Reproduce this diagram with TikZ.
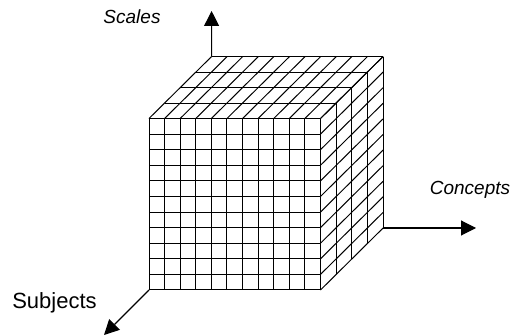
\documentclass[tikz,border=0pt]{standalone}
\usepackage{fontspec}
\setmainfont{Liberation Sans}
\usetikzlibrary{arrows.meta, positioning}

\begin{document}
\begin{tikzpicture}[
    x=1pt, y=-1pt,
    gridline/.style={line width=1pt},
    axis/.style={-{Triangle[length=15pt, width=15pt]}, line width=1.1pt},
    axislabel/.style={font=\fontsize{19}{23}\selectfont\itshape, inner sep=0pt, anchor=base},
    sublabel/.style={font=\fontsize{22}{26}\selectfont, inner sep=0pt, anchor=base}
]
\useasboundingbox (0,0) rectangle (514,336);

% the cube, in cells: 11 wide, 11 high, 4 deep
\begin{scope}[shift={(149,290)}, x={(15.59pt,0pt)}, y={(0pt,15.59pt)}, z={(15.65pt,15.5pt)}]
  \coordinate (fbl) at (0,0,0);
  \coordinate (btl) at (0,11,4);
  \coordinate (bbr) at (11,0,4);

  % front face
  \foreach \k in {0,...,11} {
    \draw[gridline] (\k,0,0) -- (\k,11,0);
    \draw[gridline] (0,\k,0) -- (11,\k,0);
  }
  % top face
  \foreach \k in {0,...,11}
    \draw[gridline] (\k,11,0) -- (\k,11,4);
  \foreach \d in {1,...,4}
    \draw[gridline] (0,11,\d) -- (11,11,\d);
  % right face
  \foreach \k in {0,...,11}
    \draw[gridline] (11,\k,0) -- (11,\k,4);
  \foreach \d in {1,...,4}
    \draw[gridline] (11,0,\d) -- (11,11,\d);
\end{scope}

% axes
\coordinate (scalestip) at (211.6,11);
\coordinate (conceptstip) at (476,228);
\coordinate (subjectstip) at (104,335);

\draw[axis] (btl) -- (scalestip);
\draw[axis] (bbr) -- (conceptstip);
\draw[axis] (fbl) -- (subjectstip);

\node[axislabel] (scales)   at (132,24)  {Scales};
\node[axislabel] (concepts) at (470,195) {Concepts};
\node[sublabel]  (subjects) at (54.5,309) {Subjects};

\end{tikzpicture}
\end{document}
